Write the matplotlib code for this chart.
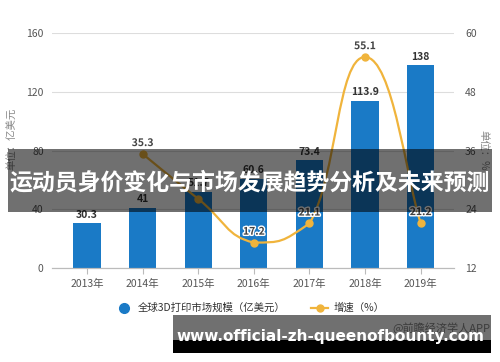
import matplotlib
matplotlib.use("Agg")
import matplotlib.pyplot as plt
import matplotlib.patheffects as pe
from matplotlib.lines import Line2D
from matplotlib.path import Path
from matplotlib.patches import PathPatch, Rectangle
import numpy as np

plt.rcParams["font.family"] = ["Noto Sans CJK SC", "DejaVu Sans"]
plt.rcParams["axes.unicode_minus"] = False

years = ["2013年", "2014年", "2015年", "2016年", "2017年", "2018年", "2019年"]
market = [30.3, 41, 51.7, 60.6, 73.4, 113.9, 138]
growth_idx = [1, 2, 3, 4, 5, 6]
growth = [35.3, 26.1, 17.2, 21.1, 55.1, 21.2]
growth_labels = ["35.3", "", "17.2", "21.1", "55.1", "21.2"]

BLUE = "#1a7ac6"
GOLD = "#f0b43c"
TXT = "#555555"

fig = plt.figure(figsize=(5.0, 3.62), dpi=100)
ax = fig.add_axes([0.104, 0.2597, 0.804, 0.6491])
ax2 = ax.twinx()

x = np.arange(len(years))
ax.bar(x, market, width=0.49, color=BLUE, zorder=2)
for xi, v in zip(x, market):
    ax.text(xi, v + 2.5, f"{v:g}", ha="center", va="bottom", fontsize=7.5,
            fontweight="bold", color="#333333", zorder=5)

ax.set_xlim(-0.63, 6.6)
ax.set_ylim(0, 160)
ax.set_yticks([0, 40, 80, 120, 160])
ax2.set_ylim(12, 60)
ax2.set_yticks([12, 24, 36, 48, 60])
ax.set_xticks(x)
ax.set_xticklabels(years)
ax.grid(axis="y", color="#dddddd", linewidth=0.8, zorder=0)
ax.set_axisbelow(True)
for a in (ax, ax2):
    for s in ("top", "left", "right"):
        a.spines[s].set_visible(False)
    a.spines["bottom"].set_color("#bbbbbb")
    a.tick_params(colors=TXT, labelsize=7.5, length=0, pad=6)
ax.tick_params(axis="x", length=4, color="#bbbbbb", pad=4)
ax2.tick_params(axis="y", pad=8)

ax.set_ylabel("单位：亿美元", fontsize=7.5, color="#888888")
ax2.set_ylabel("单位：%", fontsize=7.5, color="#888888", rotation=-90)
ax.yaxis.set_label_coords(-0.087, 0.55)
ax2.yaxis.set_label_coords(1.085, 0.5)

# smooth growth line, control points kept inside each segment's y range
fig.canvas.draw()
pts = ax2.transData.transform(np.column_stack([growth_idx, growth]))
n = len(pts)
verts = [pts[0]]
codes = [Path.MOVETO]
smooth = 0.25


def clamp(c, a, b):
    lo, hi = min(a[1], b[1]), max(a[1], b[1])
    return np.array([c[0], min(max(c[1], lo), hi)])


for i in range(n - 1):
    p0 = pts[max(i - 1, 0)]
    p1 = pts[i]
    p2 = pts[i + 1]
    p3 = pts[min(i + 2, n - 1)]
    c1 = clamp(p1 + (p2 - p0) * smooth, p1, p2)
    c2 = clamp(p2 - (p3 - p1) * smooth, p1, p2)
    verts += [c1, c2, p2]
    codes += [Path.CURVE4] * 3
verts = ax2.transData.inverted().transform(np.array(verts))
ax2.add_patch(PathPatch(Path(verts, codes), facecolor="none", edgecolor=GOLD,
                        linewidth=1.6, zorder=3))
ax2.plot(growth_idx, growth, "o", color=GOLD, markersize=5, zorder=4)
for xi, v, lab in zip(growth_idx, growth, growth_labels):
    if lab:
        ax2.text(xi, v + 1.2, lab, ha="center", va="bottom", fontsize=7.5,
                 fontweight="bold", color="#444444", zorder=5,
                 path_effects=[pe.withStroke(linewidth=2, foreground="white")])

handles = [
    Line2D([], [], marker="o", linestyle="none", color=BLUE, markersize=7),
    Line2D([], [], marker="o", color=GOLD, markersize=5, linewidth=1.6),
]
fig.legend(handles, ["全球3D打印市场规模（亿美元）", "增速（%）"], loc="center",
           bbox_to_anchor=(0.5, 1 - 308 / 362), ncol=2, frameon=False,
           fontsize=7.5, labelcolor="#333333", handlelength=1.6,
           handletextpad=0.5, columnspacing=2.5)

fig.text(490 / 500, 1 - 328 / 362, "@前瞻经济学人APP", ha="right",
         va="center", fontsize=8, color="#888888")

# overlay banners
fig.patches.append(Rectangle((8 / 500, 1 - 212 / 362), 484 / 500, 63 / 362,
                             transform=fig.transFigure, facecolor="black",
                             alpha=0.56, zorder=10))
fig.text(250 / 500, 1 - 183 / 362, "运动员身价变化与市场发展趋势分析及未来预测",
         ha="center", va="center", fontsize=16.5, fontweight="bold",
         color="white", zorder=11)
fig.patches.append(Rectangle((173 / 500, 1 - 340 / 362), 318 / 500, 25 / 362,
                             transform=fig.transFigure, facecolor="black",
                             alpha=0.56, zorder=10))
fig.patches.append(Rectangle((173 / 500, 1 - 353 / 362), 318 / 500, 13 / 362,
                             transform=fig.transFigure, facecolor="black",
                             zorder=10))
fig.text(330 / 500, 1 - 337 / 362, "www.official-zh-queenofbounty.com",
         ha="center", va="center", fontsize=11, fontweight="bold",
         color="white", zorder=11, family=["DejaVu Sans"])

fig.savefig("out.png", dpi=100)
